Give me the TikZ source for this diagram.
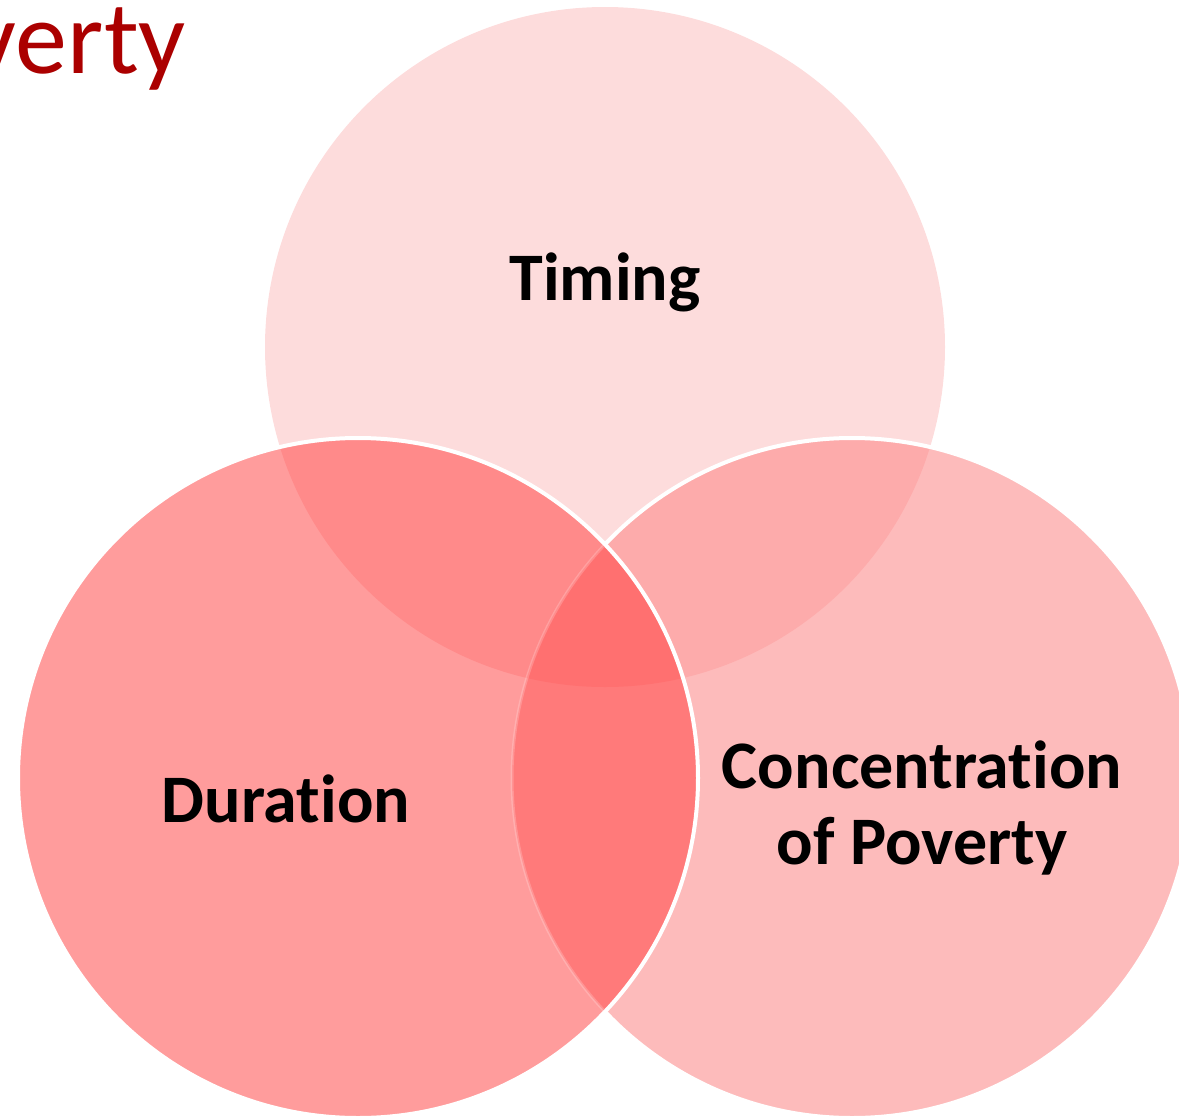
\documentclass[tikz,border=0pt]{standalone}
\usepackage{fontspec}
\setmainfont{Carlito}[Ligatures={NoCommon}]
\definecolor{cT}{HTML}{FDDCDC}
\definecolor{cL}{HTML}{FF9C9C}
\definecolor{cR}{HTML}{FDBBBB}
\definecolor{cTL}{HTML}{FF8A8A}
\definecolor{cTR}{HTML}{FDABAB}
\definecolor{cLR}{HTML}{FF7A7A}
\definecolor{cTLR}{HTML}{FF7070}
\definecolor{titlered}{HTML}{AB0000}
\tikzset{
  lbl/.style={font=\bfseries\fontsize{68}{76}\selectfont, text=black, inner sep=0pt, align=center},
  rim/.style={draw=white, line width=4pt},
}
\begin{document}
\begin{tikzpicture}[x=1pt,y=-1pt]
\useasboundingbox (0,0) rectangle (1179,1117);
\coordinate (ct) at (605,347);
\coordinate (cl) at (358,778);
\coordinate (cr) at (852,778);
% top circle
\fill[cT] (ct) circle[radius=340pt];
% right circle
\fill[cR] (cr) circle[radius=340pt];
\begin{scope}
  \clip (ct) circle[radius=340pt];
  \fill[cTR] (cr) circle[radius=340pt];
\end{scope}
\draw[rim] (cr) circle[radius=340pt];
% left circle
\fill[cL] (cl) circle[radius=340pt];
\begin{scope}
  \clip (cl) circle[radius=340pt];
  \fill[cTL] (ct) circle[radius=340pt];
  \fill[cLR] (cr) circle[radius=340pt];
  \clip (ct) circle[radius=340pt];
  \fill[cTLR] (cr) circle[radius=340pt];
\end{scope}
\begin{scope}
  \clip (cl) circle[radius=340pt];
  \draw[draw=white, draw opacity=0.2, line width=3pt] (cr) circle[radius=340pt];
\end{scope}
\draw[rim] (cl) circle[radius=340pt];
% labels
\node[lbl, anchor=base] (timing) at (605,300) {Timing};
\node[lbl, anchor=base] (duration) at (286,822) {Duration};
\node[lbl] (conc) at (922,808) {Concentration\\of Poverty};
% title fragment
\node[font=\fontsize{104}{110}\selectfont, text=titlered, anchor=base east, inner sep=0pt] (title) at (186,73) {Poverty};
\end{tikzpicture}
\end{document}
